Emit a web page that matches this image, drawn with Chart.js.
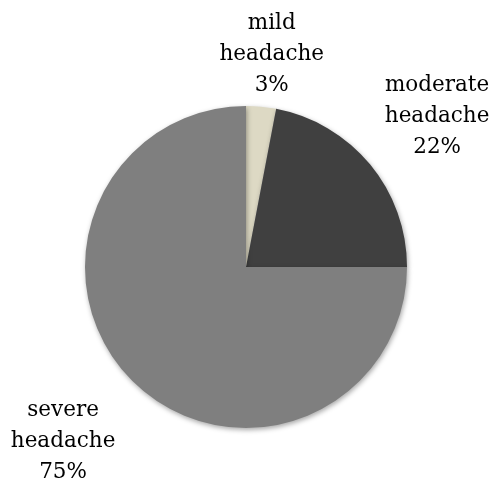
<!DOCTYPE html>
<html>
<head>
<meta charset="utf-8">
<script src="https://cdn.jsdelivr.net/npm/chart.js@4"></script>
<style>
  html, body { margin: 0; padding: 0; background: #fff; }
  #wrap { width: 496px; height: 484px; }
</style>
</head>
<body>
<div id="wrap"><canvas id="pie"></canvas></div>
<script>
// data
const categories = ['mild headache', 'moderate headache', 'severe headache'];
const percents = [3, 22, 75];
const sliceColors = ['#ddd9c4', '#404040', '#7f7f7f'];

// where each label sits: extra distance beyond the rim and a small angle nudge (degrees)
const labelPlace = [
  { dist: 53, nudge: 1.5 },
  { dist: 82, nudge: 1.45 },
  { dist: 92, nudge: 1.3 }
];

const shadowPlugin = {
  id: 'shadow',
  beforeDatasetsDraw(chart) {
    const ctx = chart.ctx;
    ctx.save();
    ctx.shadowColor = 'rgba(0,0,0,0.35)';
    ctx.shadowBlur = 5;
    ctx.shadowOffsetX = 1;
    ctx.shadowOffsetY = 2;
  },
  afterDatasetsDraw(chart) {
    chart.ctx.restore();
  }
};

const outsideLabels = {
  id: 'outsideLabels',
  afterDraw(chart) {
    const ctx = chart.ctx;
    const arcs = chart.getDatasetMeta(0).data;
    ctx.save();
    ctx.fillStyle = '#000';
    ctx.font = '21.5px "DejaVu Serif"';
    ctx.textAlign = 'center';
    ctx.textBaseline = 'middle';
    arcs.forEach((arc, i) => {
      const p = arc.getProps(['x', 'y', 'startAngle', 'endAngle', 'outerRadius'], true);
      const mid = (p.startAngle + p.endAngle) / 2 + labelPlace[i].nudge * Math.PI / 180;
      const r = p.outerRadius + labelPlace[i].dist;
      const cx = p.x + Math.cos(mid) * r;
      const cy = p.y + Math.sin(mid) * r;
      const words = categories[i].split(' ');
      const lines = [words[0], words[1], percents[i] + '%'];
      const lh = 31;
      lines.forEach((t, k) => {
        ctx.fillText(t, cx, cy + (k - 1) * lh);
      });
    });
    ctx.restore();
  }
};

new Chart(document.getElementById('pie'), {
  type: 'pie',
  data: {
    labels: categories,
    datasets: [{
      data: percents,
      backgroundColor: sliceColors,
      borderWidth: 0
    }]
  },
  options: {
    responsive: true,
    maintainAspectRatio: false,
    animation: false,
    layout: { padding: { top: 106, bottom: 56, left: 85, right: 89 } },
    plugins: {
      legend: { display: false },
      tooltip: { enabled: false }
    }
  },
  plugins: [shadowPlugin, outsideLabels]
});
</script>
</body>
</html>
